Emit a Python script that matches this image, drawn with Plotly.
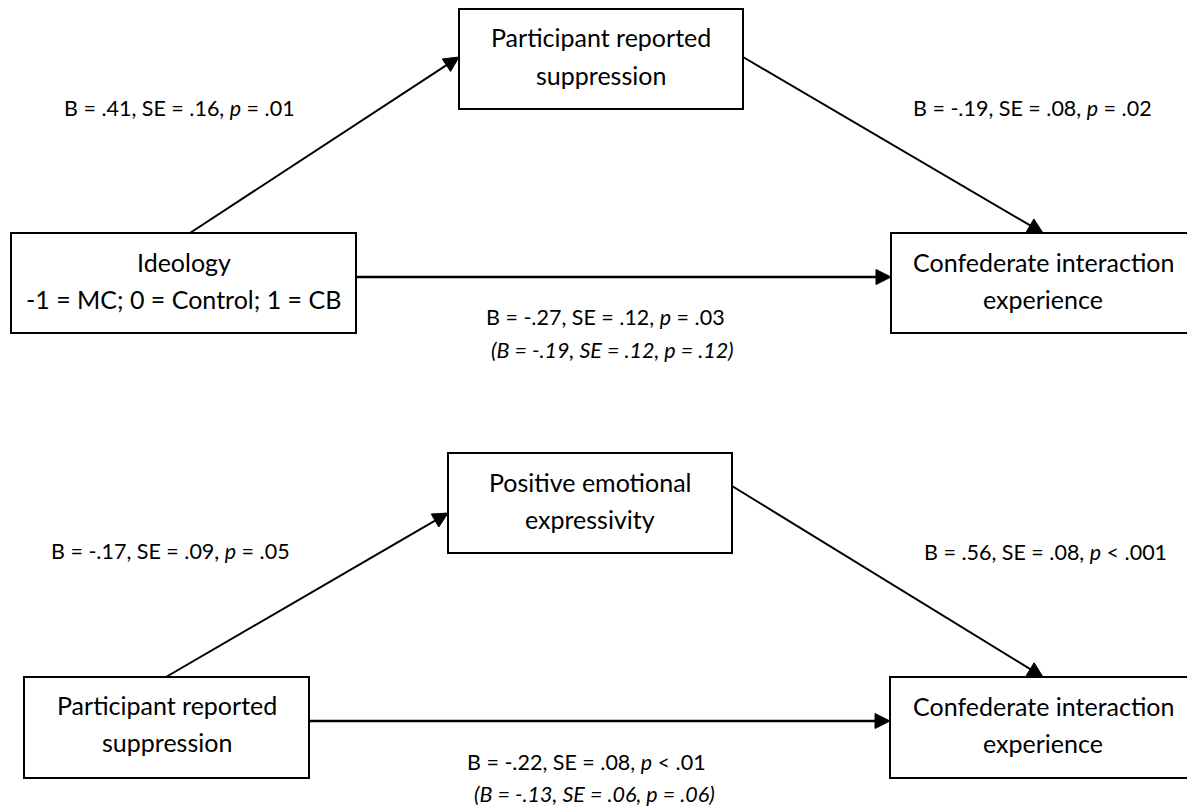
import math
import plotly.graph_objects as go

# ---------------- data (text content of the two mediation models) ----------------
predictor_text = [["Ideology", "-1 = MC; 0 = Control; 1 = CB"],
                  ["Participant reported", "suppression"]]
mediator_text = [["Participant reported", "suppression"],
                 ["Positive emotional", "expressivity"]]
outcome_text = [["Confederate interaction", "experience"],
                ["Confederate interaction", "experience"]]
path_a_text = ["B = .41, SE = .16, <i>p</i> = .01",
               "B = -.17, SE = .09, <i>p</i> = .05"]
path_b_text = ["B = -.19, SE = .08, <i>p</i> = .02",
               "B = .56, SE = .08, <i>p</i> &lt; .001"]
path_c_text = ["B = -.27, SE = .12, <i>p</i> = .03",
               "B = -.22, SE = .08, <i>p</i> &lt; .01"]
path_c_prime_text = ["<i>(B = -.19, SE = .12, p = .12)</i>",
                     "<i>(B = -.13, SE = .06, p = .06)</i>"]

# ---------------- layout geometry (positions in canvas units) ----------------
W, H = 1187, 807
layout_geo = [
    dict(pred=(11, 233, 356, 333), pred_tx=183.5, pred_ty=(262, 299),
         med=(459, 9, 743, 109), med_tx=601, med_ty=(37, 75),
         out=(891, 233, 1195, 333), out_tx=1043, out_ty=(262, 299),
         a=((190, 233), (459, 57)), b=((743, 57), (1043, 233)),
         c=((356, 277), (891, 277)),
         a_lab=(179, 108), b_lab=(1032, 108), c_lab=(605, 317), cp_lab=(612, 350)),
    dict(pred=(24, 677, 309, 778), pred_tx=166.5, pred_ty=(705, 742),
         med=(448, 453, 732, 553), med_tx=590, med_ty=(482, 519),
         out=(890, 677, 1195, 778), out_tx=1043, out_ty=(706, 743),
         a=((166, 677), (448, 513)), b=((732, 486), (1043, 677)),
         c=((309, 721), (890, 721)),
         a_lab=(170, 551), b_lab=(1045, 552), c_lab=(586, 762), cp_lab=(594, 794)),
]

FONT = "Lato, 'Open Sans', sans-serif"
FS_BOX = 25
FS_LAB = 21.5
INK = "#000000"
HEAD_LEN, HEAD_HALF = 15, 7.5

shapes, annotations = [], []


def add_box(rect):
    x0, y0, x1, y1 = rect
    shapes.append(dict(type="rect", xref="x", yref="y", x0=x0, y0=y0, x1=x1, y1=y1,
                       line=dict(color=INK, width=2), fillcolor="rgba(0,0,0,0)"))


def add_arrow(p0, p1, width):
    (x0, y0), (x1, y1) = p0, p1
    dx, dy = x1 - x0, y1 - y0
    L = math.hypot(dx, dy)
    ux, uy = dx / L, dy / L
    bx, by = x1 - ux * HEAD_LEN, y1 - uy * HEAD_LEN
    shapes.append(dict(type="line", xref="x", yref="y", x0=x0, y0=y0, x1=bx + ux, y1=by + uy,
                       line=dict(color=INK, width=width)))
    px, py = -uy, ux
    path = (f"M {x1},{y1} L {bx + px * HEAD_HALF},{by + py * HEAD_HALF} "
            f"L {bx - px * HEAD_HALF},{by - py * HEAD_HALF} Z")
    shapes.append(dict(type="path", xref="x", yref="y", path=path,
                       fillcolor=INK, line=dict(color=INK, width=1)))


def add_text(x, y, text, size):
    annotations.append(dict(x=x, y=y, xref="x", yref="y", text=text, showarrow=False,
                            xanchor="center", yanchor="middle",
                            font=dict(family=FONT, size=size, color=INK)))


for i, g in enumerate(layout_geo):
    add_box(g["pred"])
    add_box(g["med"])
    add_box(g["out"])
    for t, y in zip(predictor_text[i], g["pred_ty"]):
        add_text(g["pred_tx"], y, t, FS_BOX)
    for t, y in zip(mediator_text[i], g["med_ty"]):
        add_text(g["med_tx"], y, t, FS_BOX)
    for t, y in zip(outcome_text[i], g["out_ty"]):
        add_text(g["out_tx"], y, t, FS_BOX)
    add_arrow(*g["a"], width=2)
    add_arrow(*g["b"], width=2)
    add_arrow(*g["c"], width=2.5)
    add_text(*g["a_lab"], path_a_text[i], FS_LAB)
    add_text(*g["b_lab"], path_b_text[i], FS_LAB)
    add_text(*g["c_lab"], path_c_text[i], FS_LAB)
    add_text(*g["cp_lab"], path_c_prime_text[i], FS_LAB)

fig = go.Figure()
fig.add_trace(go.Scatter(x=[0, W], y=[0, H], mode="markers",
                         marker=dict(opacity=0), hoverinfo="skip", showlegend=False))
fig.update_layout(
    width=W, height=H,
    margin=dict(l=0, r=0, t=0, b=0),
    paper_bgcolor="white", plot_bgcolor="white",
    xaxis=dict(range=[0, W], visible=False, fixedrange=True),
    yaxis=dict(range=[H, 0], visible=False, fixedrange=True),
    shapes=shapes, annotations=annotations,
    showlegend=False,
)
fig.write_html("out.html", config={"displayModeBar": False},
               post_script="document.body.style.margin='0';document.body.style.overflow='hidden';")
